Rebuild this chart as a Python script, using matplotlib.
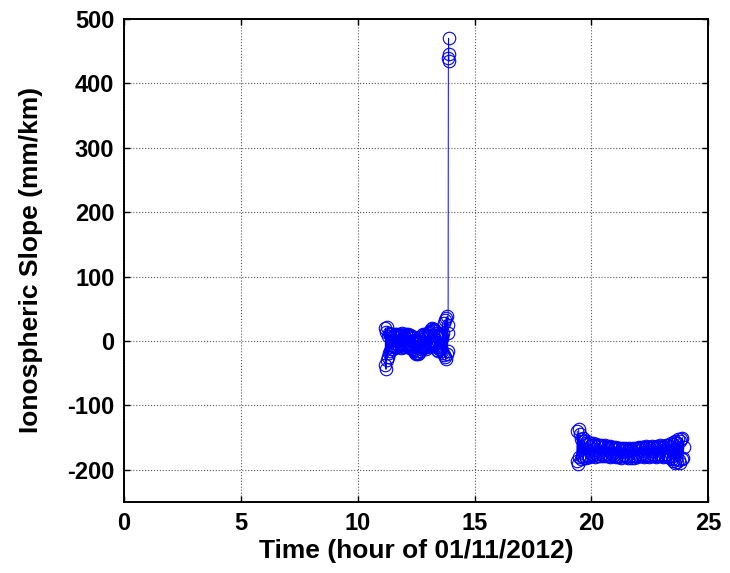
import numpy as np
import matplotlib.pyplot as plt

# first pass (hour, mm/km), last four points are the jump
t1 = np.array([11.17, 11.19, 11.21, 11.23, 11.25, 11.27, 11.29, 11.31, 11.33, 11.35,
               11.37, 11.39, 11.41, 11.43, 11.45, 11.47, 11.49, 11.51, 11.53, 11.55,
               11.57, 11.59, 11.61, 11.63, 11.65, 11.67, 11.69, 11.71, 11.73, 11.75,
               11.77, 11.79, 11.81, 11.83, 11.85, 11.87, 11.89, 11.91, 11.93, 11.95,
               11.97, 11.99, 12.01, 12.03, 12.05, 12.07, 12.09, 12.11, 12.13, 12.15,
               12.17, 12.19, 12.21, 12.23, 12.25, 12.27, 12.29, 12.31, 12.33, 12.35,
               12.37, 12.39, 12.41, 12.43, 12.45, 12.47, 12.49, 12.51, 12.53, 12.55,
               12.57, 12.59, 12.61, 12.63, 12.65, 12.67, 12.69, 12.71, 12.73, 12.75,
               12.77, 12.79, 12.81, 12.83, 12.85, 12.87, 12.89, 12.91, 12.93, 12.95,
               12.97, 12.99, 13.01, 13.03, 13.05, 13.07, 13.09, 13.11, 13.13, 13.15,
               13.17, 13.19, 13.21, 13.23, 13.25, 13.27, 13.29, 13.31, 13.33, 13.35,
               13.37, 13.39, 13.41, 13.43, 13.45, 13.47, 13.49, 13.51, 13.53, 13.55,
               13.57, 13.59, 13.61, 13.63, 13.65, 13.67, 13.69, 13.71, 13.73, 13.75,
               13.77, 13.79, 13.81, 13.83, 13.85, 13.86, 13.87,
               13.88, 13.89, 13.90, 13.91])
s1 = np.array([-38, 20, -44, 14, -30, 22, -25, 8, -18, 12,
               -15, 10, -12, 6, -10, 11, -8, 7, -12, 9,
               -6, 10, -9, 8, -5, 11, -10, 6, -7, 9,
               -8, 10, -4, 7, -11, 8, -6, 12, -9, 5,
               -7, 9, -10, 6, -5, 10, -8, 7, -6, 11,
               -9, 8, -4, 9, -11, 6, -7, 8, -12, 4,
               -14, 2, -16, 0, -18, -2, -20, -4, -19, -1,
               -21, -3, -18, 0, -15, 3, -12, 6, -10, 9,
               -8, 10, -11, 7, -6, 11, -9, 8, -12, 5,
               -10, 9, -6, 12, -4, 14, -8, 16, -5, 18,
               -3, 20, -6, 17, -2, 19, -5, 15, -8, 12,
               -10, 9, -14, 6, -16, 8, -12, 10, -9, 7,
               -13, 5, -15, 8, -18, 12, -22, 28, -25, 32,
               -28, 36, -20, 38, -15, 12, 25,
               440, 470, 445, 435])

# second pass
t2 = np.array([19.37, 19.40, 19.43, 19.46, 19.49, 19.52, 19.55, 19.58, 19.61, 19.64,
               19.67, 19.70, 19.73, 19.76, 19.79, 19.82, 19.85, 19.88, 19.91, 19.94,
               19.97, 20.00, 20.03, 20.06, 20.09, 20.12, 20.15, 20.18, 20.21, 20.24,
               20.27, 20.30, 20.33, 20.36, 20.39, 20.42, 20.45, 20.48, 20.51, 20.54,
               20.57, 20.60, 20.63, 20.66, 20.69, 20.72, 20.75, 20.78, 20.81, 20.84,
               20.87, 20.90, 20.93, 20.96, 20.99, 21.02, 21.05, 21.08, 21.11, 21.14,
               21.17, 21.20, 21.23, 21.26, 21.29, 21.32, 21.35, 21.38, 21.41, 21.44,
               21.47, 21.50, 21.53, 21.56, 21.59, 21.62, 21.65, 21.68, 21.71, 21.74,
               21.77, 21.80, 21.83, 21.86, 21.89, 21.92, 21.95, 21.98, 22.01, 22.04,
               22.07, 22.10, 22.13, 22.16, 22.19, 22.22, 22.25, 22.28, 22.31, 22.34,
               22.37, 22.40, 22.43, 22.46, 22.49, 22.52, 22.55, 22.58, 22.61, 22.64,
               22.67, 22.70, 22.73, 22.76, 22.79, 22.82, 22.85, 22.88, 22.91, 22.94,
               22.97, 23.00, 23.03, 23.06, 23.09, 23.12, 23.15, 23.18, 23.21, 23.24,
               23.27, 23.30, 23.33, 23.36, 23.39, 23.42, 23.45, 23.48, 23.51, 23.54,
               23.57, 23.60, 23.63, 23.66, 23.69, 23.72, 23.75, 23.78, 23.81, 23.84,
               23.87, 23.90, 23.93, 23.96])
s2 = np.array([-186, -140, -191, -137, -180, -145, -184, -152, -178, -150,
               -182, -155, -179, -158, -181, -156, -177, -160, -180, -159,
               -176, -161, -179, -158, -177, -162, -180, -160, -176, -163,
               -178, -161, -175, -164, -179, -162, -176, -165, -178, -163,
               -177, -162, -179, -164, -176, -166, -178, -163, -180, -165,
               -176, -164, -179, -166, -177, -165, -180, -167, -178, -166,
               -180, -167, -178, -168, -181, -166, -179, -168, -177, -167,
               -180, -168, -178, -169, -181, -167, -179, -168, -182, -169,
               -179, -167, -181, -168, -178, -166, -180, -167, -177, -165,
               -179, -166, -176, -164, -178, -165, -180, -166, -177, -163,
               -179, -165, -177, -164, -180, -166, -178, -163, -176, -165,
               -179, -164, -177, -166, -180, -163, -178, -165, -176, -162,
               -179, -164, -177, -163, -180, -165, -178, -162, -176, -164,
               -180, -161, -178, -163, -182, -158, -184, -160, -186, -157,
               -190, -155, -183, -158, -188, -152, -185, -156, -189, -153,
               -184, -150, -181, -165])

xticks = [0, 5, 10, 15, 20, 25]
yticks = [-200, -100, 0, 100, 200, 300, 400, 500]

plt.rcParams['font.family'] = ['Liberation Sans', 'DejaVu Sans']
plt.rcParams['font.weight'] = 'bold'
plt.rcParams['axes.unicode_minus'] = False

fig = plt.figure(figsize=(7.3, 5.73), dpi=100)
ax = fig.add_axes([0.170, 0.124, 0.800, 0.843])

for t, s in [(t1, s1), (t2, s2)]:
    ax.plot(t, s, '-o', color='blue', lw=0.7, ms=9, mfc='none', mec='blue', mew=0.8)

ax.set_xlim(0, 25)
ax.set_ylim(-250, 500)
ax.set_xticks(xticks)
ax.set_yticks(yticks)
ax.grid(True, ls=':', color='0.35', lw=0.8)
ax.tick_params(direction='in', top=True, right=True, length=4, width=1,
               labelsize=17, pad=7)
for sp in ax.spines.values():
    sp.set_linewidth(1.4)

ax.set_xlabel('Time (hour of 01/11/2012)', fontsize=19, fontweight='bold', labelpad=3)
ax.set_ylabel('Ionospheric Slope (mm/km)', fontsize=19, fontweight='bold')
ax.yaxis.set_label_coords(-0.139, 0.5)

fig.savefig('out.png', dpi=100)
